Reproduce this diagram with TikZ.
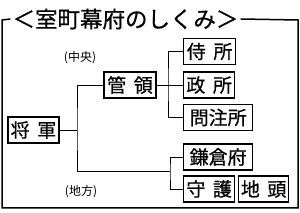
\documentclass[tikz,border=0pt]{standalone}
\usepackage{fontspec}
\setmainfont{Noto Sans CJK JP}
\newfontfamily\thickjp{Noto Sans CJK JP}[FakeBold=0.6]
\usepackage{tikz}
\usetikzlibrary{positioning, calc}

\begin{document}
\begin{tikzpicture}[x=1pt, y=-1pt,
    office/.style={draw, line width=1.3pt, minimum height=26pt, inner sep=0pt,
      font=\thickjp\fontsize{19}{19}\selectfont},
    shortbox/.style={office, minimum width=51pt},
    longbox/.style={office, minimum width=69pt},
    link/.style={line width=0.9pt},
    note/.style={font=\fontsize{12}{12}\selectfont}]
        \useasboundingbox (0,0) rectangle (300,213);

        % title and frame
        \node[inner sep=2pt, font=\thickjp\fontsize{22.5}{22.5}\selectfont] (title) at (125.5,19) {＜室町幕府のしくみ＞};
        \draw[line width=1.5pt] (title.west) -- (2,20) -- (2,208) -- (298,208) -- (298,20) -- (title.east);

        \node[note] (central) at (80,58) {(中央)};
        \node[note] (local) at (81,192) {(地方)};

        % shogun and kanrei
        \node[shortbox] (shogun) at (33.5,130) {将\hspace{0.4em}軍};
        \node[shortbox, minimum width=52pt] (kanrei) at (130,85) {管\hspace{0.4em}領};

        % central offices
        \node[shortbox, minimum width=52pt, anchor=west] (samurai) at (183,51.5) {侍\hspace{0.4em}所};
        \node[shortbox, anchor=west] (mandokoro) at (183,85) {政\hspace{0.4em}所};
        \node[longbox, anchor=west] (monchujo) at (183,117.5) {問注所};

        % local offices
        \node[longbox, anchor=west] (kamakura) at (183,157) {鎌倉府};
        \node[shortbox, anchor=west] (shugo) at (183,189) {守\hspace{0.4em}護};
        \node[shortbox, minimum width=50pt, anchor=west] (jito) at (238,189) {地\hspace{0.4em}頭};

        % branches
        \coordinate (shogunfork) at (77,130);
        \coordinate (kanreifork) at (168,85);
        \coordinate (localfork) at (170,171);

        \draw[link] (shogun.east) -- (shogunfork);
        \draw[link] (kanrei.west) -| (shogunfork) |- (localfork);
        \draw[link] (kanrei.east) -- (mandokoro.west);
        \draw[link] (samurai.west) -| (kanreifork) |- (monchujo.west);
        \draw[link] (kamakura.west) -| (localfork) |- (shugo.west);
      \end{tikzpicture}
\end{document}
